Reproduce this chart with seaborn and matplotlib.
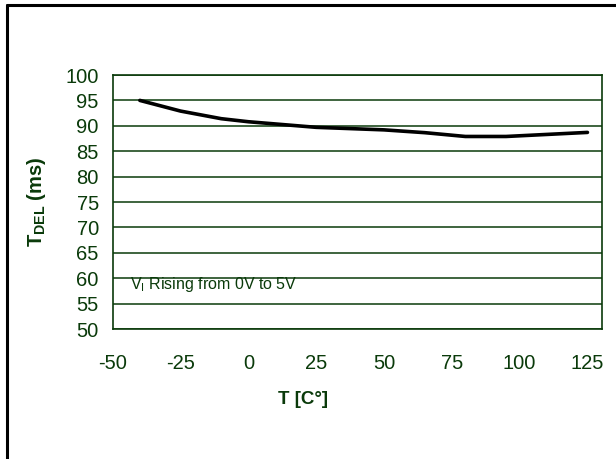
import matplotlib
matplotlib.use("Agg")
import matplotlib.pyplot as plt
import seaborn as sns
import pandas as pd
from matplotlib.lines import Line2D

temperature = [-40, -25, -10, 0, 25, 50, 65, 80, 95, 110, 125]
t_del = [95.0, 92.9, 91.4, 90.8, 89.7, 89.2, 88.65, 87.9, 87.9, 88.3, 88.7]
x_ticks = [-50, -25, 0, 25, 50, 75, 100, 125]
y_ticks = [50, 55, 60, 65, 70, 75, 80, 85, 90, 95, 100]

sns.set_style("white")
plt.rcParams['font.family'] = ['Liberation Sans', 'DejaVu Sans']
plt.rcParams['mathtext.fontset'] = 'custom'
plt.rcParams['mathtext.rm'] = 'Liberation Sans'
plt.rcParams['mathtext.bf'] = 'Liberation Sans:bold'
plt.rcParams['axes.unicode_minus'] = False

green = '#0a3a0a'
df = pd.DataFrame({"T": temperature, "TDEL": t_del})

fig = plt.figure(figsize=(6.16, 4.59), dpi=100)
ax = fig.add_axes([0.183, 0.2832, 0.794, 0.5534])

for y in y_ticks:
    ax.axhline(y, color=green, lw=1.1, zorder=1)

sns.lineplot(data=df, x="T", y="TDEL", ax=ax, color='black', lw=2.6, zorder=3)

ax.set_xlim(-50, 130.3)
ax.set_ylim(50, 100)
ax.set_xticks(x_ticks)
ax.set_yticks(y_ticks)
ax.tick_params(axis='both', direction='out', length=6, width=1.1, color=green,
               labelcolor=green, labelsize=14.5)
ax.tick_params(axis='y', pad=4)
ax.tick_params(axis='x', pad=12)
for s in ax.spines.values():
    s.set_color(green)
    s.set_linewidth(1.2)

ax.set_xlabel("T [C°]", fontsize=13.5, fontweight='bold', color=green)
ax.xaxis.set_label_coords(0.389, -0.276)
ax.xaxis.label.set_va('center')
ax.set_ylabel(r"$\mathbf{T}_{\mathbf{DEL}}$ (ms)", fontsize=14.5, fontweight='bold',
              color=green)
ax.yaxis.set_label_coords(-0.155, 0.5)
ax.yaxis.label.set_va('center')

ax.text(-43.8, 58.8, r"V$_{\mathrm{I}}$ Rising from 0V to 5V", fontsize=11.5,
        color=green, va='center', ha='left')

fig.add_artist(Line2D([7/616, 7/616], [0, 1 - 5/459], transform=fig.transFigure,
                      color='black', lw=2.2))
fig.add_artist(Line2D([7/616, 1], [1 - 5/459, 1 - 5/459], transform=fig.transFigure,
                      color='black', lw=2.2))

fig.savefig("out.png", dpi=100)
